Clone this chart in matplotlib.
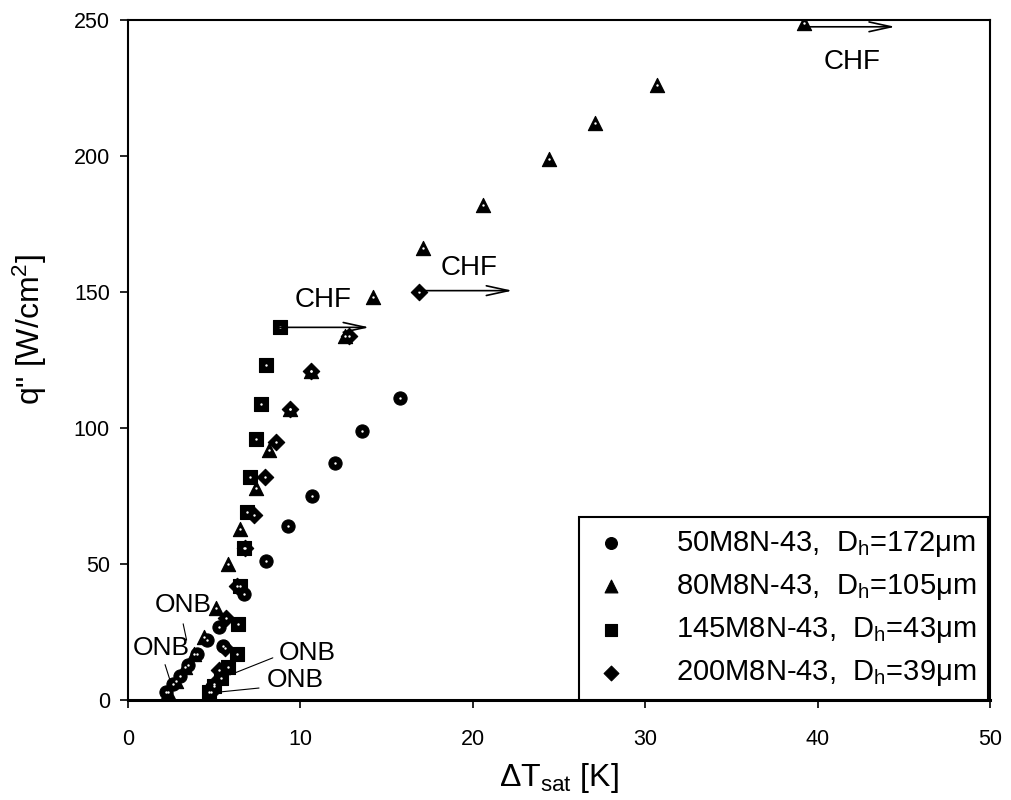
import matplotlib
matplotlib.use("Agg")
import matplotlib.pyplot as plt

plt.rcParams['font.family'] = ['Liberation Sans', 'DejaVu Sans']
plt.rcParams['mathtext.fontset'] = 'custom'
plt.rcParams['mathtext.rm'] = 'Liberation Sans'
plt.rcParams['mathtext.it'] = 'Liberation Sans'

# ---- data ----
circ_x = [2.2, 2.6, 3.0, 3.5, 4.0, 4.6, 5.3, 5.5, 6.7, 8.0, 9.3, 10.7, 12.0, 13.6, 15.8]
circ_y = [3, 6, 9, 13, 17, 22, 27, 20, 39, 51, 64, 75, 87, 99, 111]

tri_x = [2.3, 2.8, 3.3, 3.8, 4.4, 5.1, 5.8, 6.5, 7.4, 8.2, 9.4, 10.6, 12.6, 14.2, 17.1, 20.6, 24.4, 27.1, 30.7, 39.2]
tri_y = [3, 7, 12, 17, 23, 34, 50, 63, 78, 92, 107, 121, 134, 148, 166, 182, 199, 212, 226, 249]

sq_x = [4.7, 5.0, 5.4, 5.8, 6.3, 6.4, 6.5, 6.7, 6.9, 7.1, 7.4, 7.7, 8.0, 8.8]
sq_y = [3, 5, 8, 12, 17, 28, 42, 56, 69, 82, 96, 109, 123, 137]

dia_x = [4.8, 5.0, 5.3, 5.6, 5.7, 6.3, 6.8, 7.3, 7.95, 8.6, 9.4, 10.6, 12.8, 16.9]
dia_y = [3, 6, 11, 19, 30, 42, 56, 68, 82, 95, 107, 121, 134, 150]

labels = ["50M8N-43,  D$_\\mathregular{h}$=172\u03bcm",
          "80M8N-43,  D$_\\mathregular{h}$=105\u03bcm",
          "145M8N-43,  D$_\\mathregular{h}$=43\u03bcm",
          "200M8N-43,  D$_\\mathregular{h}$=39\u03bcm"]

x_ticks = [0, 10, 20, 30, 40, 50]
y_ticks = [0, 50, 100, 150, 200, 250]

fig = plt.figure(figsize=(10.11, 8.0), dpi=100)
ax = fig.add_axes([128/1011, 100/800, 862/1011, 680/800])

series = [(circ_x, circ_y, 'o', 90), (tri_x, tri_y, '^', 105),
          (sq_x, sq_y, 's', 95), (dia_x, dia_y, 'D', 70)]
handles = []
for (xs, ys, m, s), lab in zip(series, labels):
    h = ax.scatter(xs, ys, marker=m, s=s, c='black', edgecolors='black',
                   linewidths=0.8, label=lab, zorder=3)
    ax.scatter(xs, ys, marker='o', s=3, c='white', linewidths=0, zorder=4)
    handles.append(h)

ax.set_xlim(0, 50)
ax.set_ylim(0, 250)
ax.set_xticks(x_ticks)
ax.set_yticks(y_ticks)
ax.tick_params(direction='out', length=6, width=1.2, labelsize=15.5,
               colors='black')
ax.tick_params(axis='x', pad=15)
ax.tick_params(axis='y', pad=7)
for sp in ax.spines.values():
    sp.set_linewidth(1.5)
ax.spines['bottom'].set_linewidth(2.2)

ax.set_xlabel("\u0394T$_\\mathregular{sat}$ [K]", fontsize=23, labelpad=8)
ax.set_ylabel("q\" [W/cm$^\\mathregular{2}$]", fontsize=23)
ax.yaxis.set_label_coords(-0.092, 0.545)

arrow = dict(arrowstyle='->,head_length=1.6,head_width=0.35', color='black', lw=1.2,
             shrinkA=0, shrinkB=0)
# CHF arrows
ax.annotate('', xy=(14.0, 137), xytext=(8.8, 137), arrowprops=arrow, zorder=5)
ax.text(11.3, 147, 'CHF', fontsize=20, ha='center', va='center')
ax.annotate('', xy=(22.3, 150.5), xytext=(16.9, 150.5), arrowprops=arrow, zorder=5)
ax.text(19.8, 159, 'CHF', fontsize=20, ha='center', va='center')
ax.annotate('', xy=(44.5, 247.5), xytext=(39.2, 247.5), arrowprops=arrow, zorder=5)
ax.text(42.0, 234.5, 'CHF', fontsize=20, ha='center', va='center')

# ONB labels
line = dict(arrowstyle='-', color='black', lw=0.8, shrinkA=0, shrinkB=0)
ax.text(3.2, 35, 'ONB', fontsize=19, ha='center', va='center')
ax.annotate('', xy=(3.4, 22), xytext=(3.2, 28), arrowprops=line)
ax.text(1.9, 19, 'ONB', fontsize=19, ha='center', va='center')
ax.annotate('', xy=(2.45, 7), xytext=(2.15, 13), arrowprops=line)
ax.text(10.4, 17.3, 'ONB', fontsize=19, ha='center', va='center')
ax.annotate('', xy=(5.9, 9.2), xytext=(8.4, 15.5), arrowprops=line)
ax.text(9.7, 7.4, 'ONB', fontsize=19, ha='center', va='center')
ax.annotate('', xy=(5.4, 3), xytext=(7.6, 4.4), arrowprops=line)

leg = ax.legend(handles=handles, loc='lower right', bbox_to_anchor=(0.998, 0.0),
                fontsize=21, frameon=True, fancybox=False, framealpha=1,
                edgecolor='black', borderaxespad=0, labelspacing=0.45,
                handletextpad=1.55, borderpad=0.4, handlelength=1.4,
                scatterpoints=1, markerscale=0.9)
leg.get_frame().set_linewidth(1.5)
leg.set_zorder(6)

fig.savefig('out.png', dpi=100)
